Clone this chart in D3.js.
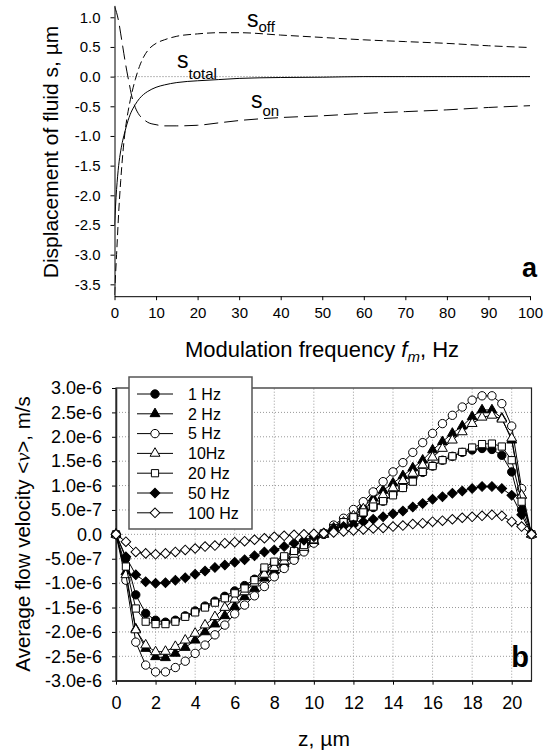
<!DOCTYPE html>
<html>
<head>
<meta charset="utf-8">
<script src="https://cdn.jsdelivr.net/npm/d3@7"></script>
<style>
    body { margin: 0; background: #fff; }
    svg { display: block; font-family: "Liberation Sans", Arial, sans-serif; }
</style>
</head>
<body>
<svg id="chart" width="547" height="753"></svg>
<script>
// panel a: displacement vs modulation frequency
const freq = [0, 0.5, 1, 1.5, 2, 2.5, 3, 3.5, 4, 4.5, 5, 6, 7, 8, 10, 12, 15, 20, 25, 30, 40, 50, 60, 70, 80, 90, 100];
const sOn = [1.18, 1.08, 0.93, 0.72, 0.5, 0.28, 0.08, -0.1, -0.28, -0.42, -0.52, -0.65, -0.72, -0.77, -0.81, -0.83, -0.83, -0.82, -0.78, -0.74, -0.69, -0.66, -0.62, -0.59, -0.56, -0.52, -0.49];
const sOff = [-3.68, -3.0, -2.3, -1.75, -1.3, -0.95, -0.7, -0.5, -0.33, -0.18, -0.05, 0.17, 0.33, 0.44, 0.56, 0.62, 0.68, 0.72, 0.74, 0.74, 0.70, 0.66, 0.62, 0.59, 0.56, 0.52, 0.49];
const sTotal = [-2.5, -1.9, -1.5, -1.25, -1.07, -0.93, -0.8, -0.69, -0.6, -0.53, -0.47, -0.37, -0.3, -0.25, -0.18, -0.14, -0.1, -0.07, -0.05, -0.03, -0.015, -0.01, 0, 0, 0, 0, 0];
const freqTicks = [0, 10, 20, 30, 40, 50, 60, 70, 80, 90, 100];
const sTicks = [1.0, 0.5, 0.0, -0.5, -1.0, -1.5, -2.0, -2.5, -3.0, -3.5];
const sTickLabels = ['1.0', '0.5', '0.0', '-0.5', '-1.0', '-1.5', '-2.0', '-2.5', '-3.0', '-3.5'];

// panel b: average flow velocity (units of 1e-6 m/s) vs z
const zPos = [0, 0.5, 1, 1.5, 2, 2.5, 3, 3.5, 4, 4.5, 5, 5.5, 6, 6.5, 7, 7.5, 8, 8.5, 9, 9.5, 10, 10.5,
    11, 11.5, 12, 12.5, 13, 13.5, 14, 14.5, 15, 15.5, 16, 16.5, 17, 17.5, 18, 18.5, 19, 19.5, 20, 20.5, 21];
const v1Hz = [0, -0.49, -1.24, -1.62, -1.76, -1.8, -1.76, -1.67, -1.57, -1.47, -1.37, -1.27, -1.16, -1.05, -0.92, -0.74, -0.6, -0.48, -0.36, -0.24, -0.12, 0.0,
    0.1, 0.2, 0.3, 0.42, 0.55, 0.68, 0.82, 0.96, 1.15, 1.27, 1.4, 1.52, 1.6, 1.68, 1.73, 1.76, 1.74, 1.62, 1.28, 0.5, 0];
const v2Hz = [0, -0.77, -1.94, -2.34, -2.51, -2.53, -2.44, -2.32, -2.17, -2.0, -1.84, -1.67, -1.48, -1.28, -1.11, -0.9, -0.75, -0.6, -0.45, -0.3, -0.15, 0.0,
    0.15, 0.28, 0.43, 0.57, 0.74, 0.9, 1.05, 1.2, 1.36, 1.52, 1.73, 1.9, 2.07, 2.22, 2.41, 2.55, 2.55, 2.38, 1.93, 0.8, 0];
const v5Hz = [0, -0.94, -2.21, -2.68, -2.82, -2.82, -2.73, -2.6, -2.44, -2.27, -2.06, -1.86, -1.63, -1.45, -1.26, -1.07, -0.87, -0.7, -0.53, -0.36, -0.18, 0.0,
    0.19, 0.33, 0.51, 0.67, 0.87, 1.08, 1.28, 1.47, 1.68, 1.88, 2.07, 2.27, 2.44, 2.61, 2.75, 2.84, 2.84, 2.68, 2.22, 0.94, 0];
const v10Hz = [0, -0.83, -1.96, -2.27, -2.41, -2.4, -2.3, -2.17, -2.03, -1.86, -1.69, -1.5, -1.33, -1.18, -1.0, -0.82, -0.68, -0.55, -0.41, -0.27, -0.13, 0.0,
    0.13, 0.25, 0.38, 0.52, 0.66, 0.8, 0.95, 1.1, 1.25, 1.42, 1.58, 1.76, 1.93, 2.1, 2.27, 2.4, 2.44, 2.36, 1.97, 0.8, 0];
const v20Hz = [0, -0.66, -1.52, -1.79, -1.84, -1.84, -1.79, -1.69, -1.6, -1.5, -1.4, -1.31, -1.21, -1.11, -0.94, -0.68, -0.56, -0.45, -0.34, -0.22, -0.1, 0.02,
    0.13, 0.25, 0.35, 0.45, 0.57, 0.68, 0.8, 0.95, 1.08, 1.28, 1.4, 1.52, 1.6, 1.69, 1.78, 1.85, 1.86, 1.8, 1.52, 0.67, 0];
const v50Hz = [0, -0.46, -0.83, -0.97, -1.0, -0.99, -0.94, -0.89, -0.82, -0.75, -0.68, -0.63, -0.57, -0.52, -0.44, -0.36, -0.32, -0.25, -0.18, -0.12, -0.05, 0.03,
    0.12, 0.16, 0.19, 0.26, 0.31, 0.36, 0.42, 0.48, 0.56, 0.63, 0.72, 0.77, 0.84, 0.89, 0.94, 0.98, 0.98, 0.94, 0.8, 0.4, 0];
const v100Hz = [0, -0.15, -0.36, -0.39, -0.41, -0.39, -0.36, -0.32, -0.29, -0.25, -0.23, -0.18, -0.16, -0.14, -0.11, -0.08, -0.05, -0.03, -0.01, 0.0, 0.01, 0.02,
    0.04, 0.06, 0.08, 0.1, 0.12, 0.13, 0.16, 0.18, 0.21, 0.23, 0.26, 0.28, 0.31, 0.34, 0.36, 0.38, 0.4, 0.38, 0.26, 0.16, 0];
const seriesNames = ['1 Hz', '2 Hz', '5 Hz', '10Hz', '20 Hz', '50 Hz', '100 Hz'];
const velocityUnit = 1e-6;
const zTicks = [0, 2, 4, 6, 8, 10, 12, 14, 16, 18, 20];
const vTicks = [3.0e-6, 2.5e-6, 2.0e-6, 1.5e-6, 1.0e-6, 5.0e-7, 0, -5.0e-7, -1.0e-6, -1.5e-6, -2.0e-6, -2.5e-6, -3.0e-6];
const vTickLabels = ['3.0e-6', '2.5e-6', '2.0e-6', '1.5e-6', '1.0e-6', '5.0e-7', '0.0', '-5.0e-7', '-1.0e-6', '-1.5e-6', '-2.0e-6', '-2.5e-6', '-3.0e-6'];

const svg = d3.select('#chart');

function drawTop() {
    const x = d3.scaleLinear().domain([0, 100]).range([114.5, 530]);
    const y = d3.scaleLinear().domain([-3.7, 1.2]).range([296.2, 5.4]);
    const g = svg.append('g');

    g.append('clipPath').attr('id', 'clipTop')
        .append('rect').attr('x', 114.5).attr('y', 5.4).attr('width', 415.5).attr('height', 290.8);

    // zero line
    g.append('line')
        .attr('x1', x(0)).attr('x2', x(100)).attr('y1', y(0)).attr('y2', y(0))
        .attr('stroke', '#777').attr('stroke-width', 1).attr('stroke-dasharray', '1,2');

    const line = vals => d3.line()
        .x((d, i) => x(freq[i]))
        .y(d => y(d))
        .curve(d3.curveMonotoneX)(vals);

    const curves = [
        { vals: sOn, dash: '14,6' },
        { vals: sOff, dash: '8,4' },
        { vals: sTotal, dash: null }
    ];
    g.append('g').attr('clip-path', 'url(#clipTop)')
        .selectAll('path')
        .data(curves)
        .enter()
        .append('path')
        .attr('d', d => line(d.vals))
        .attr('fill', 'none')
        .attr('stroke', '#000')
        .attr('stroke-width', 1)
        .attr('stroke-dasharray', d => d.dash);

    g.append('g')
        .attr('transform', `translate(0, ${y(-3.7)})`)
        .call(d3.axisBottom(x).tickValues(freqTicks).tickSize(4).tickPadding(7).tickSizeOuter(0))
        .call(a => a.selectAll('text').attr('font-size', 15).attr('font-family', null));
    g.append('g')
        .attr('transform', `translate(${x(0)}, 0)`)
        .call(d3.axisLeft(y).tickValues(sTicks).tickFormat((d, i) => sTickLabels[i]).tickSize(4).tickPadding(10).tickSizeOuter(0))
        .call(a => a.selectAll('text').attr('font-size', 15).attr('font-family', null));
    g.selectAll('.domain, .tick line').attr('stroke', '#000');

    // curve labels
    const labels = [
        { x: 247, y: 27, sub: 'off', subY: 32 },
        { x: 177, y: 68, sub: 'total', subY: 79 },
        { x: 251, y: 108, sub: 'on', subY: 116 }
    ];
    labels.forEach(l => {
        const t = g.append('text').attr('x', l.x).attr('y', l.y).attr('font-size', 23).text('s');
        t.append('tspan').attr('y', l.subY).attr('font-size', 15).text(l.sub);
    });

    g.append('text').attr('x', 537).attr('y', 277).attr('text-anchor', 'end')
        .attr('font-size', 27).attr('font-weight', 'bold').text('a');

    const xt = g.append('text').attr('x', 322).attr('y', 357).attr('text-anchor', 'middle').attr('font-size', 22);
    xt.append('tspan').text('Modulation frequency ');
    xt.append('tspan').attr('font-style', 'italic').text('f');
    xt.append('tspan').attr('font-style', 'italic').attr('font-size', 15).attr('dy', 5).text('m');
    xt.append('tspan').attr('dy', -5).text(', Hz');

    g.append('text').attr('transform', 'translate(58, 152) rotate(-90)')
        .attr('text-anchor', 'middle').attr('font-size', 21)
        .text('Displacement of fluid s, \u00b5m');
}

function drawBottom() {
    const x = d3.scaleLinear().domain([0, 21]).range([116, 531.5]);
    const y = d3.scaleLinear().domain([-3e-6, 3e-6]).range([680.7, 388]);
    const g = svg.append('g');

    // grid
    g.append('g').selectAll('line')
        .data(zTicks.filter(d => d > 0))
        .enter().append('line')
        .attr('x1', d => x(d)).attr('x2', d => x(d)).attr('y1', y(-3e-6)).attr('y2', y(3e-6))
        .attr('stroke', '#999').attr('stroke-dasharray', '1,2');
    g.append('g').selectAll('line')
        .data(vTicks.filter(d => Math.abs(d) < 2.9e-6))
        .enter().append('line')
        .attr('x1', x(0)).attr('x2', x(21)).attr('y1', d => y(d)).attr('y2', d => y(d))
        .attr('stroke', '#999').attr('stroke-dasharray', '1,2');

    g.append('g')
        .attr('transform', `translate(0, ${y(-3e-6)})`)
        .call(d3.axisBottom(x).tickValues(zTicks).tickSize(4).tickPadding(12).tickSizeOuter(0))
        .call(a => a.selectAll('text').attr('font-size', 18).attr('font-family', null));
    g.append('g')
        .attr('transform', `translate(${x(0)}, 0)`)
        .call(d3.axisLeft(y).tickValues(vTicks).tickFormat((d, i) => vTickLabels[i]).tickSize(4).tickPadding(10).tickSizeOuter(0))
        .call(a => a.selectAll('text').attr('font-size', 18).attr('font-family', null));
    g.selectAll('.domain').attr('stroke', '#333').attr('stroke-width', 1.6);
    g.selectAll('.tick line').attr('stroke', '#000');
    g.append('rect')
        .attr('x', x(0)).attr('y', y(3e-6)).attr('width', x(21) - x(0)).attr('height', y(-3e-6) - y(3e-6))
        .attr('fill', 'none').attr('stroke', '#222').attr('stroke-width', 1.2);

    const series = [v1Hz, v2Hz, v5Hz, v10Hz, v20Hz, v50Hz, v100Hz];
    const markers = [
        { type: d3.symbolCircle, size: 55, fill: '#000', rot: 0 },
        { type: d3.symbolTriangle, size: 42, fill: '#000', rot: 0 },
        { type: d3.symbolCircle, size: 55, fill: '#fff', rot: 0 },
        { type: d3.symbolTriangle, size: 42, fill: '#fff', rot: 0 },
        { type: d3.symbolSquare, size: 52, fill: '#fff', rot: 0 },
        { type: d3.symbolSquare, size: 46, fill: '#000', rot: 45 },
        { type: d3.symbolSquare, size: 46, fill: '#fff', rot: 45 }
    ];
    const line = d3.line()
        .x((d, i) => x(zPos[i]))
        .y(d => y(d * velocityUnit));

    series.forEach((vals, k) => {
        const m = markers[k];
        const sg = g.append('g');
        sg.append('path')
            .attr('d', line(vals))
            .attr('fill', 'none').attr('stroke', '#000').attr('stroke-width', 1);
        sg.selectAll('path.pt')
            .data(vals)
            .enter()
            .append('path')
            .attr('class', 'pt')
            .attr('d', d3.symbol(m.type, m.size))
            .attr('transform', (d, i) => `translate(${x(zPos[i])}, ${y(d * velocityUnit)}) rotate(${m.rot})`)
            .attr('fill', m.fill).attr('stroke', '#000').attr('stroke-width', 1);
    });

    // legend
    const legend = g.append('g');
    legend.append('rect')
        .attr('x', 129).attr('y', 377).attr('width', 123).attr('height', 152)
        .attr('fill', '#fff').attr('stroke', '#555').attr('stroke-width', 1.5);
    const rows = legend.selectAll('g.row')
        .data(seriesNames)
        .enter()
        .append('g')
        .attr('class', 'row')
        .attr('transform', (d, i) => `translate(0, ${394 + i * 19.8})`);
    rows.append('line').attr('x1', 137).attr('x2', 173).attr('stroke', '#000');
    rows.append('path')
        .attr('d', (d, i) => d3.symbol(markers[i].type, markers[i].size)())
        .attr('transform', (d, i) => `translate(155, 0) rotate(${markers[i].rot})`)
        .attr('fill', (d, i) => markers[i].fill).attr('stroke', '#000');
    rows.append('text').attr('x', 188).attr('dy', '0.36em').attr('font-size', 16).text(d => d);

    g.append('text').attr('x', 529).attr('y', 667).attr('text-anchor', 'end')
        .attr('font-size', 29).attr('font-weight', 'bold').text('b');

    g.append('text').attr('x', 324).attr('y', 746).attr('text-anchor', 'middle').attr('font-size', 21)
        .text('z, \u00b5m');

    const yt = g.append('text').attr('transform', 'translate(30, 534) rotate(-90)')
        .attr('text-anchor', 'middle').attr('font-size', 20.5);
    yt.append('tspan').text('Average flow velocity <');
    yt.append('tspan').attr('font-family', '"Liberation Serif", serif').attr('font-style', 'italic').text('\u03bd');
    yt.append('tspan').text('>, m/s');
}

drawTop();
drawBottom();
</script>
</body>
</html>
